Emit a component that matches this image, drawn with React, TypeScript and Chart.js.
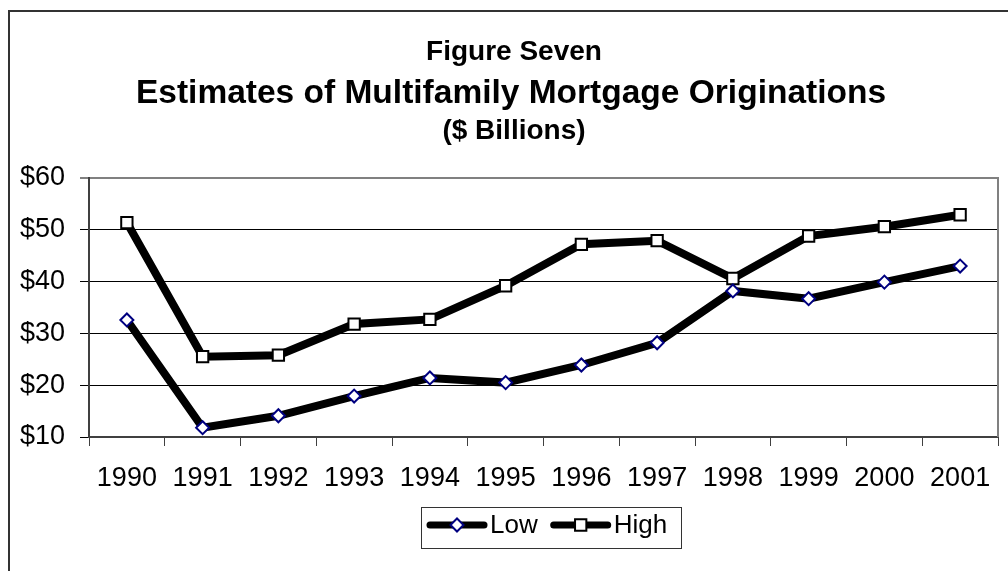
import React, { useEffect, useRef } from "react";
import { Chart, registerables } from "chart.js";
import { drawPoint } from "chart.js/helpers";

Chart.register(...registerables);

const FONT = "'Liberation Sans', Arial, sans-serif";

const years = ["1990", "1991", "1992", "1993", "1994", "1995", "1996", "1997", "1998", "1999", "2000", "2001"];
const lowValues = [32.6, 11.8, 14.1, 17.9, 21.4, 20.5, 23.9, 28.2, 38.2, 36.7, 39.9, 43.0];
const highValues = [51.4, 25.5, 25.8, 31.8, 32.7, 39.2, 47.2, 47.9, 40.6, 48.8, 50.6, 52.9];
const seriesNames = ["Low", "High"];
const yMin = 10;
const yMax = 60;
const yStep = 10;
const titleLines = ["Figure Seven", "Estimates of Multifamily Mortgage Originations", "($ Billions)"];

const decorPlugin = {
  id: "decor",
  beforeDraw(chart: any) {
    const ctx = chart.ctx;
    ctx.save();
    ctx.fillStyle = "#ffffff";
    ctx.fillRect(0, 0, chart.width, chart.height);
    // outer chart border (only left and top visible)
    ctx.strokeStyle = "#333333";
    ctx.lineWidth = 2;
    ctx.strokeRect(9, 11, chart.width + 20, chart.height + 20);
    // titles
    ctx.fillStyle = "#000000";
    ctx.textAlign = "center";
    ctx.textBaseline = "alphabetic";
    ctx.font = `bold 28px ${FONT}`;
    ctx.fillText(titleLines[0], 514, 60);
    ctx.font = `bold 33.5px ${FONT}`;
    ctx.fillText(titleLines[1], 511, 103);
    ctx.font = `bold 28px ${FONT}`;
    ctx.fillText(titleLines[2], 514, 139);
    ctx.restore();
  },
  beforeDatasetsDraw(chart: any) {
    const ctx = chart.ctx;
    const { top, right, bottom } = chart.chartArea;
    ctx.save();
    ctx.strokeStyle = "#808080";
    ctx.lineWidth = 2;
    ctx.beginPath();
    ctx.moveTo(right, top - 1);
    ctx.lineTo(right, bottom);
    ctx.stroke();
    ctx.restore();
  },
  afterDraw(chart: any) {
    const ctx = chart.ctx;
    ctx.save();
    const boxL = 421, boxT = 507, boxW = 260, boxH = 41;
    ctx.strokeStyle = "#333333";
    ctx.lineWidth = 1;
    ctx.strokeRect(boxL + 0.5, boxT + 0.5, boxW, boxH);
    const cy = boxT + 18;
    let x = boxL + 6;
    ctx.font = `26px ${FONT}`;
    ctx.textBaseline = "middle";
    ctx.textAlign = "left";
    chart.data.datasets.forEach((ds: any) => {
      ctx.strokeStyle = ds.borderColor;
      ctx.lineWidth = 7;
      ctx.lineCap = "round";
      ctx.beginPath();
      ctx.moveTo(x + 3, cy);
      ctx.lineTo(x + 57, cy);
      ctx.stroke();
      ctx.lineCap = "butt";
      ctx.fillStyle = ds.pointBackgroundColor;
      ctx.strokeStyle = ds.pointBorderColor;
      ctx.lineWidth = ds.pointBorderWidth;
      drawPoint(ctx, { pointStyle: ds.pointStyle, radius: ds.pointRadius, rotation: 0, borderWidth: ds.pointBorderWidth }, x + 30, cy);
      ctx.fillStyle = "#000000";
      ctx.fillText(ds.label, x + 63, cy + 1);
      x += 63 + ctx.measureText(ds.label).width + 13;
    });
    ctx.restore();
  },
};

export default function App() {
  const canvasRef = useRef<HTMLCanvasElement | null>(null);

  useEffect(() => {
    if (!canvasRef.current) return;
    Chart.defaults.font.family = FONT;
    const chart = new Chart(canvasRef.current, {
      type: "line",
      data: {
        labels: years,
        datasets: [
          {
            label: seriesNames[0],
            data: lowValues,
            borderColor: "#000000",
            borderWidth: 8,
            tension: 0,
            pointStyle: "rectRot",
            pointRadius: 6.5,
            pointBorderWidth: 2,
            pointBorderColor: "#000080",
            pointBackgroundColor: "#ffffff",
          },
          {
            label: seriesNames[1],
            data: highValues,
            borderColor: "#000000",
            borderWidth: 8,
            tension: 0,
            pointStyle: "rect",
            pointRadius: 8,
            pointBorderWidth: 2,
            pointBorderColor: "#000000",
            pointBackgroundColor: "#ffffff",
          },
        ],
      },
      options: {
        responsive: false,
        animation: false,
        layout: { padding: { left: 0, top: 178, right: 5, bottom: 74 } },
        plugins: {
          legend: { display: false },
          title: { display: false },
          tooltip: { enabled: false },
        },
        scales: {
          x: {
            type: "category",
            offset: true,
            grid: {
              offset: true,
              drawOnChartArea: false,
              drawTicks: true,
              tickLength: 9,
              color: "#404040",
              lineWidth: 1,
            },
            border: { display: true, color: "#404040", width: 2 },
            ticks: {
              color: "#000000",
              font: { family: FONT, size: 27 },
              padding: 16,
              maxRotation: 0,
              autoSkip: false,
            },
            afterFit: (s: any) => {
              s.height = 60;
            },
          },
          y: {
            min: yMin,
            max: yMax,
            ticks: {
              stepSize: yStep,
              color: "#000000",
              font: { family: FONT, size: 27 },
              padding: 15,
              callback: (v: any) => "$" + v,
            },
            grid: {
              color: (c: any) => (c.tick && c.tick.value === yMax ? "#808080" : "#000000"),
              lineWidth: (c: any) => (c.tick && c.tick.value === yMax ? 2 : 1),
              tickLength: 9,
            },
            border: { display: true, color: "#404040", width: 2 },
            afterFit: (s: any) => {
              s.width = 89;
            },
          },
        },
      },
      plugins: [decorPlugin],
    } as any);
    return () => chart.destroy();
  }, []);

  return (
    <div style={{ position: "absolute", left: 0, top: 0, width: 1008, height: 571, background: "#fff" }}>
      <canvas ref={canvasRef} width={1008} height={571} style={{ display: "block", width: 1008, height: 571 }} />
    </div>
  );
}
